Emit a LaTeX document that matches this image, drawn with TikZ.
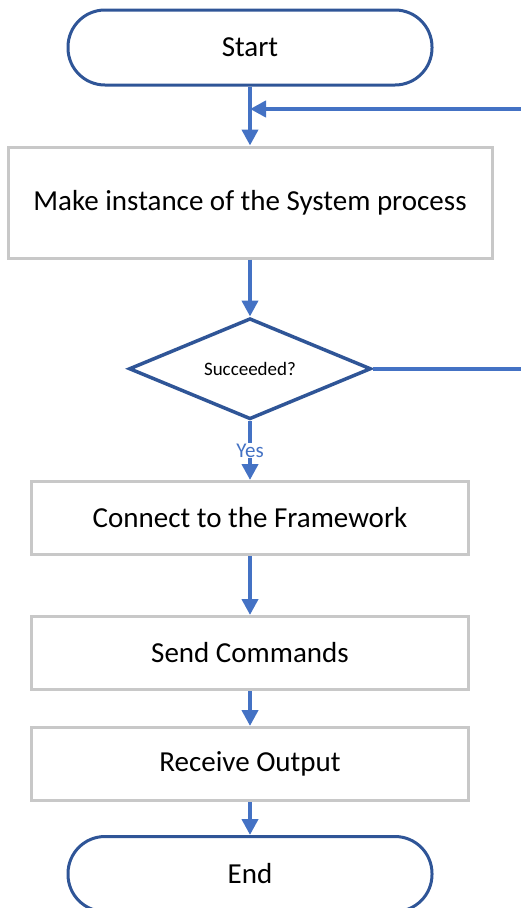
\documentclass[tikz,border=0pt]{standalone}
\usepackage{fontspec}
\setmainfont{Carlito}
\usetikzlibrary{positioning,shapes.geometric,arrows.meta,calc}

\definecolor{termblue}{RGB}{47,85,151}
\definecolor{flowblue}{RGB}{68,114,196}
\definecolor{boxgray}{RGB}{200,200,200}

\begin{document}
\begin{tikzpicture}[x=1pt,y=1pt,
						term/.style={rectangle,draw=termblue,line width=3pt,rounded corners=37pt,minimum width=364pt,minimum height=75pt,font=\fontsize{29}{34}\selectfont},
						box/.style={rectangle,draw=boxgray,line width=3pt,minimum height=73pt,font=\fontsize{29}{34}\selectfont},
						dec/.style={diamond,aspect=2.5,draw=termblue,line width=3.5pt,inner sep=0pt,minimum width=242pt,minimum height=101pt,font=\fontsize{19}{23}\selectfont},
						flow/.style={draw=flowblue,line width=4pt,-{Triangle[width=16pt,length=16pt]}}]
		\useasboundingbox (0,0) rectangle (521,-908);

		\node[term]																(start)		at (250,-47.5)	{Start};
		\node[box,node distance=59pt,below=of start,minimum width=484pt,minimum height=111pt]	(make)		{Make instance of the System process};
		\node[dec,node distance=57pt,below=of make]								(succ)		{Succeeded?};
		\node[box,node distance=59pt,below=of succ,minimum width=437pt]			(connect)	{Connect to the Framework};
		\node[box,node distance=59pt,below=of connect,minimum width=437pt]		(send)		{Send Commands};
		\node[box,node distance=35pt,below=of send,minimum width=437pt]			(receive)	{Receive Output};
		\node[term,node distance=33pt,below=of receive]							(stop)		{End};

		% retry loop comes back in between Start and the first box
		\coordinate[yshift=7pt] (join) at ($(start.south)!0.5!(make.north)$);
		\coordinate (back) at (524,0);

		\draw[flow] (start) -- (make);
		\draw[flow] (make) -- (succ);
		\draw[flow] (succ) -- node[fill=white,text=flowblue,inner sep=1pt,font=\fontsize{21}{25}\selectfont] {Yes} (connect);
		\draw[flow] (connect) -- (send);
		\draw[flow] (send) -- (receive);
		\draw[flow] (receive) -- (stop);
		\draw[flow] (succ.east) -- (succ.east -| back) |- (join);
	\end{tikzpicture}
\end{document}
